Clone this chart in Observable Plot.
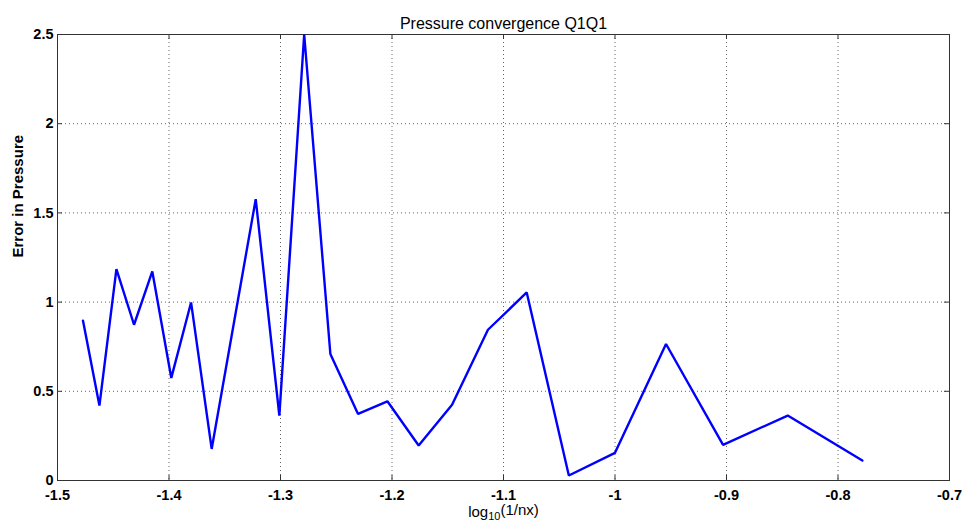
<!DOCTYPE html>
<html>
<head>
<meta charset="utf-8">
<script src="https://cdn.jsdelivr.net/npm/d3@7"></script>
<script src="https://cdn.jsdelivr.net/npm/@observablehq/plot@0.6"></script>
<style>
  html, body { margin: 0; padding: 0; background: #fff; }
  #chart { width: 967px; height: 528px; }
</style>
</head>
<body>
<div id="chart"></div>
<script>
// ---- data ----
const nx = [30, 29, 28, 27, 26, 25, 24, 23, 21, 20, 19, 18, 17, 16, 15, 14, 13, 12, 11, 10, 9, 8, 7, 6];
const pressureError = [0.896, 0.42, 1.185, 0.873, 1.172, 0.575, 0.998, 0.177, 1.577, 0.364, 2.5, 0.709, 0.373, 0.444, 0.196, 0.425, 0.845, 1.054, 0.028, 0.155, 0.765, 0.2, 0.364, 0.112];
const xTicks = [-1.5, -1.4, -1.3, -1.2, -1.1, -1, -0.9, -0.8, -0.7];
const yTicks = [0, 0.5, 1, 1.5, 2, 2.5];
const titleText = "Pressure convergence Q1Q1";
const xLabelText = "log10(1/nx)";
const yLabelText = "Error in Pressure";

const data = nx.map((n, i) => ({x: Math.log10(1 / n), y: pressureError[i]}));

const W = 967, H = 528;
const mL = 57, mR = 18, mT = 34, mB = 48;
const plotW = W - mL - mR, plotH = H - mT - mB;
const font = "'Liberation Sans', Arial, Helvetica, sans-serif";
const axisColor = "#333";

const chart = Plot.plot({
  width: W,
  height: H,
  marginLeft: mL,
  marginRight: mR,
  marginTop: mT,
  marginBottom: mB,
  style: {fontFamily: font, background: "#fff", color: "#000"},
  x: {domain: [-1.5, -0.7]},
  y: {domain: [0, 2.5]},
  marks: [
    Plot.gridX(xTicks.slice(1, -1), {stroke: "#666", strokeOpacity: 1, strokeDasharray: "1,3"}),
    Plot.gridY(yTicks.slice(1, -1), {stroke: "#666", strokeOpacity: 1, strokeDasharray: "1,3"}),
    // inward ticks
    Plot.ruleX(xTicks, {x: d => d, insetTop: plotH - 5, stroke: axisColor}),
    Plot.ruleX(xTicks, {x: d => d, insetBottom: plotH - 5, stroke: axisColor}),
    Plot.ruleY(yTicks, {y: d => d, insetRight: plotW - 5, stroke: axisColor}),
    Plot.ruleY(yTicks, {y: d => d, insetLeft: plotW - 5, stroke: axisColor}),
    Plot.frame({stroke: axisColor, strokeWidth: 1}),
    Plot.axisX(xTicks, {anchor: "bottom", tickSize: 0, tickPadding: 9, fontSize: 14.5, fontWeight: "bold", tickFormat: d => String(d), label: null, fill: "#000"}),
    Plot.axisY(yTicks, {anchor: "left", tickSize: 0, tickPadding: 4, fontSize: 14.5, fontWeight: "bold", tickFormat: d => String(d), label: null, fill: "#000"}),
    Plot.line(data, {x: "x", y: "y", stroke: "#0000ff", strokeWidth: 2.4, strokeLinejoin: "miter"}),
    Plot.text([titleText], {frameAnchor: "top", dy: -17, fontSize: 16, fill: "#000"}),
    Plot.text([xLabelText], {frameAnchor: "bottom", dy: 36, fontSize: 15, fill: "#000"}),
    Plot.text([yLabelText], {frameAnchor: "left", dx: -39.5, rotate: -90, fontSize: 15, fontWeight: "bold", fill: "#000"})
  ]
});

document.getElementById("chart").appendChild(chart);

// subscript in the x label: log with subscript 10
d3.select(chart).selectAll("text")
  .filter(function() { return this.textContent === xLabelText; })
  .each(function() {
    const t = d3.select(this);
    t.text(null);
    t.append("tspan").text("log");
    t.append("tspan").attr("dy", "0.35em").attr("font-size", "11px").text("10");
    t.append("tspan").attr("dy", "-0.35em").text("(1/nx)");
  });
</script>
</body>
</html>
